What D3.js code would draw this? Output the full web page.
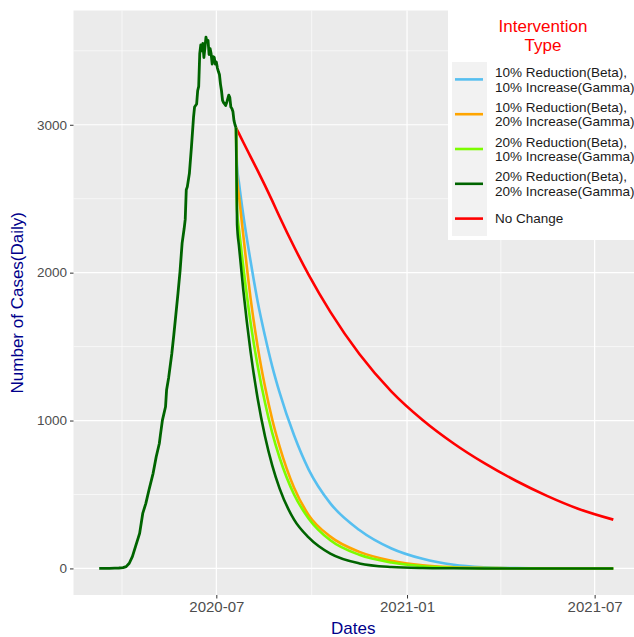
<!DOCTYPE html>
<html><head><meta charset="utf-8">
<script src="https://cdn.jsdelivr.net/npm/d3@7"></script>
<style>
body{margin:0;background:#fff}
svg{display:block;font-family:"Liberation Sans",Arial,Helvetica,sans-serif}
</style>
</head><body>
<svg id="chart" width="634" height="637"></svg>
<script>
// ---------------- DATA ----------------
const observedDates = ["2020-03-10","2020-03-15","2020-03-20","2020-03-25","2020-03-29","2020-04-02","2020-04-05","2020-04-08","2020-04-11","2020-04-14","2020-04-18","2020-04-21","2020-04-24","2020-04-27","2020-05-01","2020-05-04","2020-05-07","2020-05-08","2020-05-10","2020-05-13","2020-05-14","2020-05-16","2020-05-19","2020-05-21","2020-05-23","2020-05-25","2020-05-27","2020-05-29","2020-05-31","2020-06-01","2020-06-02","2020-06-03","2020-06-05","2020-06-07","2020-06-09","2020-06-10","2020-06-12","2020-06-13","2020-06-14","2020-06-15","2020-06-16","2020-06-17","2020-06-18","2020-06-19","2020-06-20","2020-06-21","2020-06-22","2020-06-23","2020-06-24","2020-06-25","2020-06-26","2020-06-27","2020-06-28","2020-06-29","2020-06-30","2020-07-01","2020-07-02","2020-07-03","2020-07-04","2020-07-05","2020-07-06","2020-07-07","2020-07-08","2020-07-09","2020-07-10","2020-07-11","2020-07-12","2020-07-13","2020-07-14","2020-07-15","2020-07-16","2020-07-17","2020-07-18","2020-07-19","2020-07-20"];
const observedCases = [0,0,1,2,3,5,12,35,80,147,237,372,440,530,643,755,845,900,1003,1093,1206,1290,1450,1580,1720,1860,2010,2200,2300,2360,2560,2580,2670,2850,3050,3120,3140,3230,3260,3480,3540,3500,3550,3455,3520,3593,3560,3570,3475,3515,3480,3410,3460,3455,3410,3425,3385,3360,3340,3275,3230,3165,3150,3140,3130,3150,3175,3200,3185,3120,3110,3090,3030,3000,2980];

const interventionStart = "2020-07-20";
const projectionDays = [0,1,3,7,14,21,28,35,42,56,70,91,119,150,180,210,240,270,300,330,364];

const seriesNames = [
  "10% Reduction(Beta),\n10% Increase(Gamma)",
  "10% Reduction(Beta),\n20% Increase(Gamma)",
  "20% Reduction(Beta),\n10% Increase(Gamma)",
  "20% Reduction(Beta),\n20% Increase(Gamma)",
  "No Change"
];
const seriesColors = ["#56BFF0","#FFA500","#7CFC00","#006400","#FF0000"];

const beta10gamma10 = [2980,2720,2600,2390,2080,1800,1570,1365,1190,900,670,440,260,135,65,25,8,2,0,0,0];
const beta10gamma20 = [2980,2650,2510,2255,1830,1495,1228,1005,825,545,362,215,112,52,21,8,3,1,0,0,0];
const beta20gamma10 = [2980,2420,2285,2040,1665,1365,1120,915,750,500,338,190,92,40,15,5,2,1,0,0,0];
const beta20gamma20 = [2980,2330,2170,1883,1468,1144,892,695,541,330,210,100,34,10,3,1,0,0,0,0,0];
const noChange      = [2980,2966,2938,2882,2785,2688,2588,2485,2378,2175,1987,1735,1450,1196,1004,845,710,593,491,404,330];

const xTickDates  = ["2020-07-01","2021-01-01","2021-07-01"];
const xMajorBreaks = ["2020-01-01","2020-07-01","2021-01-01","2021-07-01","2022-01-01"];
const yTicks = [0,1000,2000,3000];
const yMinor = [500,1500,2500,3500];

// ---------------- BUILD ----------------
const parse = d3.timeParse("%Y-%m-%d");
const fmt = d3.timeFormat("%Y-%m");
const observed = observedDates.map((d,i)=>({date:parse(d), value:observedCases[i]}));
const t0 = parse(interventionStart);
const projValues = [beta10gamma10, beta10gamma20, beta20gamma10, beta20gamma20, noChange];
const projections = projValues.map((vals,k)=>({
  name: seriesNames[k], color: seriesColors[k],
  points: vals.map((v,i)=>({date: d3.timeDay.offset(t0, projectionDays[i]), value: v}))
}));

const svg = d3.select("#chart");
const panel = {left:73.5, right:639, top:10.5, bottom:595};

const allDates = observed.map(d=>d.date).concat(...projections.map(p=>p.points.map(q=>q.date)));
const allVals = observed.map(d=>d.value).concat(...projections.map(p=>p.points.map(q=>q.value)));
const [dMin,dMax] = d3.extent(allDates);
const span = dMax - dMin;
const x = d3.scaleTime()
  .domain([new Date(+dMin - span*0.05), new Date(+dMax + span*0.05)])
  .range([panel.left, panel.right]);
const vMax = d3.max(allVals), vMin = d3.min(allVals);
const vSpan = vMax - vMin;
const y = d3.scaleLinear()
  .domain([vMin - vSpan*0.05, vMax + vSpan*0.05])
  .range([panel.bottom, panel.top]);

// panel background
svg.append("rect").attr("x",panel.left).attr("y",panel.top)
  .attr("width",panel.right-panel.left).attr("height",panel.bottom-panel.top)
  .attr("fill","#EBEBEB");

const grid = svg.append("g");
const majors = xMajorBreaks.map(parse);
const xMinor = [];
for (let i=0;i<majors.length-1;i++) xMinor.push(new Date((+majors[i] + +majors[i+1])/2));
grid.selectAll(".ymin").data(yMinor).join("line")
  .attr("x1",panel.left).attr("x2",panel.right)
  .attr("y1",d=>y(d)).attr("y2",d=>y(d))
  .attr("stroke","#fff").attr("stroke-width",0.6);
grid.selectAll(".xmin").data(xMinor.filter(d=>x(d)>panel.left && x(d)<panel.right)).join("line")
  .attr("y1",panel.top).attr("y2",panel.bottom)
  .attr("x1",d=>x(d)).attr("x2",d=>x(d))
  .attr("stroke","#fff").attr("stroke-width",0.6);
grid.selectAll(".ymaj").data(yTicks).join("line")
  .attr("x1",panel.left).attr("x2",panel.right)
  .attr("y1",d=>y(d)).attr("y2",d=>y(d))
  .attr("stroke","#fff").attr("stroke-width",1.2);
grid.selectAll(".xmaj").data(xTickDates.map(parse)).join("line")
  .attr("y1",panel.top).attr("y2",panel.bottom)
  .attr("x1",d=>x(d)).attr("x2",d=>x(d))
  .attr("stroke","#fff").attr("stroke-width",1.2);

// lines
const line = d3.line().x(d=>x(d.date)).y(d=>y(d.value)).curve(d3.curveMonotoneX);
const lines = svg.append("g").attr("fill","none").attr("stroke-linejoin","round").attr("stroke-linecap","butt");
const order = [4,0,1,2,3];
order.forEach(k=>{
  const p = projections[k];
  lines.append("path").datum(p.points).attr("d",line)
    .attr("stroke",p.color).attr("stroke-width",2.6);
});
lines.append("path").datum(observed)
  .attr("d", d3.line().x(d=>x(d.date)).y(d=>y(d.value)))
  .attr("stroke","#006400").attr("stroke-width",2.8);

// axes
const xAxis = d3.axisBottom(x).tickValues(xTickDates.map(parse)).tickFormat(fmt).tickSize(3.5).tickPadding(3);
const gx = svg.append("g").attr("transform",`translate(0,${panel.bottom})`).call(xAxis);
gx.select(".domain").remove();
gx.selectAll("line").attr("stroke","#333").attr("stroke-width",1);
gx.selectAll("text").attr("fill","#4D4D4D").style("font-size","15px");

const yAxis = d3.axisLeft(y).tickValues(yTicks).tickFormat(d3.format("d")).tickSize(3.5).tickPadding(3);
const gy = svg.append("g").attr("transform",`translate(${panel.left},0)`).call(yAxis);
gy.select(".domain").remove();
gy.selectAll("line").attr("stroke","#333").attr("stroke-width",1);
gy.selectAll("text").attr("fill","#4D4D4D").style("font-size","13.5px");

// axis titles
svg.append("text").attr("x",(panel.left+panel.right)/2 - 3).attr("y",634)
  .attr("text-anchor","middle").attr("fill","#00008B").style("font-size","17px").text("Dates");
svg.append("text").attr("transform",`translate(23,${(panel.top+panel.bottom)/2}) rotate(-90)`)
  .attr("text-anchor","middle").attr("fill","#00008B").style("font-size","17px").text("Number of Cases(Daily)");

// legend
const lg = svg.append("g");
lg.append("rect").attr("x",448).attr("y",8).attr("width",200).attr("height",232).attr("fill","#fff");
lg.append("text").attr("x",543).attr("y",32).attr("text-anchor","middle").attr("fill","#FF0000")
  .style("font-size","17px").text("Intervention");
lg.append("text").attr("x",543).attr("y",51).attr("text-anchor","middle").attr("fill","#FF0000")
  .style("font-size","17px").text("Type");
const keyTop = 62, keyH = 34.8;
lg.append("rect").attr("x",452).attr("y",keyTop).attr("width",35).attr("height",keyH*5).attr("fill","#F2F2F2");
projections.forEach((p,i)=>{
  const cy = keyTop + keyH*i + keyH/2;
  lg.append("line").attr("x1",455).attr("x2",483).attr("y1",cy).attr("y2",cy)
    .attr("stroke",p.color).attr("stroke-width",2.6);
  const parts = p.name.split("\n");
  const t = lg.append("text").attr("fill","#1A1A1A").style("font-size","13.5px");
  parts.forEach((s,j)=>{
    t.append("tspan").attr("x",495)
      .attr("y", cy + (j - (parts.length-1)/2)*14.6 + 4.8).text(s);
  });
});
</script>
</body></html>
